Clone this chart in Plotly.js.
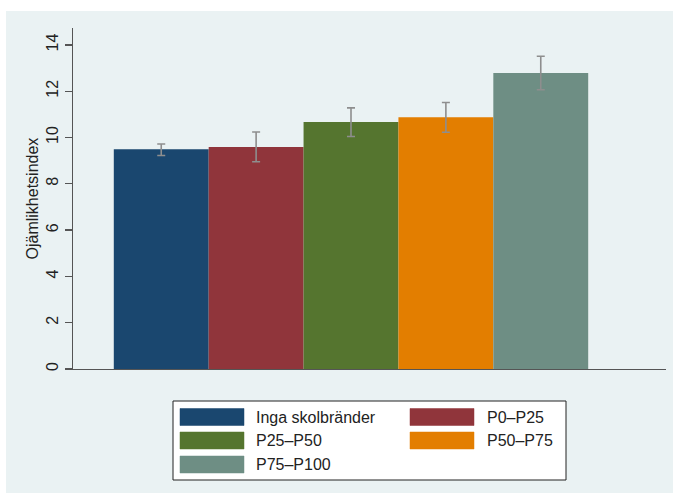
<!DOCTYPE html>
<html>
<head>
<meta charset="utf-8">
<script src="https://cdn.plot.ly/plotly-3.0.1.min.js"></script>
<style>html,body{margin:0;padding:0;background:#fff;}#chart{width:673px;height:494px;}</style>
</head>
<body>
<div id="chart"></div>
<script>
// Data
var categories = ["Inga skolbränder", "P0–P25", "P25–P50", "P50–P75", "P75–P100"];
var values = [9.49, 9.59, 10.67, 10.88, 12.79];
var ciUpper = [9.72, 10.24, 11.28, 11.51, 13.51];
var ciLower = [9.22, 8.95, 10.04, 10.23, 12.06];
var colors = ["#1a476f", "#90353b", "#55752f", "#e37e00", "#6e8e84"];
var yTicks = [0, 2, 4, 6, 8, 10, 12, 14];
var yTitle = "Ojämlikhetsindex";

// Plot area geometry (pixels)
var W = 673, H = 494;
var L = 73, R = 666, T = 28, B = 369;
function px(x) { return (x - L) / (R - L); }
function py(y) { return (B - y) / (B - T); }

var font = "Liberation Sans, Arial, Helvetica, sans-serif";

var traces = categories.map(function (c, i) {
  return {
    type: "bar",
    name: c,
    x: [i],
    y: [values[i]],
    width: 1,
    marker: { color: colors[i], line: { width: 0 } },
    error_y: {
      type: "data",
      symmetric: false,
      array: [ciUpper[i] - values[i]],
      arrayminus: [values[i] - ciLower[i]],
      color: "#8e8e8e",
      thickness: 1.6,
      width: 4
    },
    showlegend: false,
    hoverinfo: "skip"
  };
});

var shapes = [
  // outer graph region
  { type: "rect", xref: "paper", yref: "paper", layer: "below",
    x0: px(6), x1: px(680), y0: py(493), y1: py(11),
    fillcolor: "#eaf2f3", line: { width: 0 } },
  // legend box
  { type: "rect", xref: "paper", yref: "paper", layer: "above",
    x0: px(173), x1: px(566), y0: py(480), y1: py(401),
    fillcolor: "#ffffff", line: { color: "#222222", width: 1 } }
];
var annotations = [
  { text: yTitle, xref: "paper", yref: "paper", x: px(32), y: 0.5,
    xanchor: "center", yanchor: "middle", textangle: -90, showarrow: false,
    font: { family: font, size: 16, color: "#222222" } }
];

var colSwatch = [180, 410], colText = [254, 485];
var rowCenter = [417, 440.5, 464.5];
categories.forEach(function (c, i) {
  var col = i % 2, row = Math.floor(i / 2);
  var yc = rowCenter[row];
  shapes.push({ type: "rect", xref: "paper", yref: "paper", layer: "above",
    x0: px(colSwatch[col]), x1: px(colSwatch[col] + 64),
    y0: py(yc + 8.5), y1: py(yc - 8.5),
    fillcolor: colors[i], line: { color: colors[i], width: 0.5 } });
  annotations.push({ text: c, xref: "paper", yref: "paper",
    x: px(colText[col]), y: py(yc), xanchor: "left", yanchor: "middle",
    showarrow: false, font: { family: font, size: 16, color: "#222222" } });
});

var layout = {
  width: W, height: H,
  margin: { l: L, r: W - R, t: T, b: H - B, pad: 0 },
  paper_bgcolor: "#ffffff",
  plot_bgcolor: "#ffffff",
  barmode: "overlay",
  showlegend: false,
  font: { family: font, size: 16, color: "#222222" },
  xaxis: {
    range: [-0.93, 5.32], showticklabels: false, ticks: "",
    showgrid: false, zeroline: false,
    showline: true, linecolor: "#555555", linewidth: 1.3
  },
  yaxis: {
    range: [0, 14.73], tickvals: yTicks, ticktext: yTicks.map(String),
    ticks: "outside", ticklen: 7, tickcolor: "#555555", tickwidth: 1.3,
    tickangle: -90, tickfont: { family: font, size: 16, color: "#222222" },
    showline: true, linecolor: "#555555", linewidth: 1.3,
    showgrid: true, gridcolor: "#eaf2f3", gridwidth: 1.3,
    zeroline: false
  },
  shapes: shapes,
  annotations: annotations
};

Plotly.newPlot("chart", traces, layout, { staticPlot: true, displayModeBar: false });
</script>
</body>
</html>
